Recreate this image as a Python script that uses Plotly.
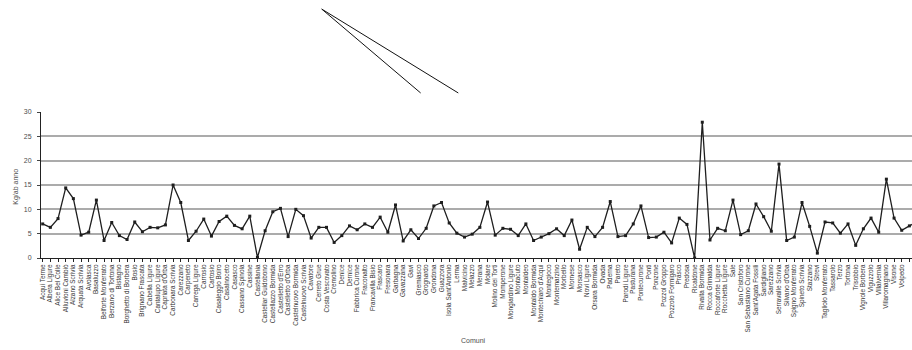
import plotly.graph_objects as go

comuni = [
    "Acqui Terme", "Albera Ligure", "Alice Bel Colle", "Alluvioni Cambiò", "Alzano Scrivia",
    "Arquata Scrivia", "Avolasca", "Basaluzzo", "Belforte Monferrato", "Berzano di Tortona",
    "Bistagno", "Borghetto di Borbera", "Bosio", "Brignano Frascata", "Cabella Ligure",
    "Cantalupo Ligure", "Capriata d'Orba", "Carbonara Scrivia", "Carezzano", "Carpeneto",
    "Carrega Ligure", "Carrosio", "Cartosio", "Casaleggio Boiro", "Casalnoceto",
    "Casasco", "Cassano Spinola", "Cassine", "Castellania", "Castellar Guidobono",
    "Castellazzo Bormida", "Castelletto d'Erro", "Castelletto d'Orba", "Castelnuovo Bormida", "Castelnuovo Scrivia",
    "Cavatore", "Cerreto Grue", "Costa Vescovato", "Cremolino", "Denice",
    "Dernice", "Fabbrica Curone", "Fraconalto", "Francavilla Bisio", "Frascaro",
    "Fresonara", "Garbagna", "Gavazzana", "Gavi", "Gremiasco",
    "Grognardo", "Grondona", "Guazzora", "Isola Sant'Antonio", "Lerma",
    "Malvicino", "Melazzo", "Merana", "Molare", "Molino dei Torti",
    "Momperone", "Mongiardino Ligure", "Montacuto", "Montaldeo", "Montaldo Bormida",
    "Montechiaro d'Acqui", "Montegioco", "Montemarzino", "Morbello", "Mornese",
    "Morsasco", "Novi Ligure", "Orsara Bormida", "Ovada", "Paderna",
    "Pareto", "Parodi Ligure", "Pasturana", "Pontecurone", "Ponti",
    "Ponzone", "Pozzol Groppo", "Pozzolo Formigaro", "Prasco", "Predosa",
    "Ricaldone", "Rivalta Bormida", "Rocca Grimalda", "Roccaforte Ligure", "Rocchetta Ligure",
    "Sale", "San Cristoforo", "San Sebastiano Curone", "Sant'Agata Fossili", "Sardigliano",
    "Sarezzano", "Serravalle Scrivia", "Silvano d'Orba", "Spigno Monferrato", "Spineto Scrivia",
    "Stazzano", "Strevi", "Tagliolo Monferrato", "Tassarolo", "Terzo",
    "Tortona", "Trisobbio", "Vignole Borbera", "Viguzzolo", "Villalvernia",
    "Villaromagnano", "Visone", "Volpedo", "Volpeglino", "Voltaggio",
]

kg_ab_anno = [
    7.0, 6.3, 8.1, 14.4, 12.2, 4.7, 5.3, 11.9, 3.6, 7.3,
    4.6, 3.8, 7.4, 5.4, 6.3, 6.2, 6.8, 15.0, 11.4, 3.6,
    5.5, 8.0, 4.5, 7.5, 8.6, 6.7, 6.0, 8.6, 0.1, 5.6,
    9.5, 10.2, 4.4, 10.0, 8.7, 4.1, 6.3, 6.3, 3.2, 4.6,
    6.6, 5.8, 7.0, 6.3, 8.4, 5.3, 10.9, 3.5, 5.8, 4.0,
    6.1, 10.7, 11.4, 7.2, 5.1, 4.3, 4.9, 6.3, 11.5, 4.7,
    6.1, 5.9, 4.6, 7.0, 3.6, 4.3, 5.0, 6.0, 4.6, 7.8,
    1.8, 6.3, 4.4, 6.3, 11.6, 4.4, 4.6, 7.0, 10.7, 4.2,
    4.3, 5.3, 3.1, 8.2, 6.9, 0.0, 27.9, 3.7, 6.1, 5.6,
    11.9, 4.8, 5.6, 11.1, 8.5, 5.5, 19.3, 3.6, 4.3, 11.4,
    6.5, 1.0, 7.4, 7.2, 5.1, 7.0, 2.6, 6.0, 8.2, 5.3,
    16.2, 8.2, 5.7, 6.6, 7.5,
]

y_ticks = [0, 5, 10, 15, 20, 25, 30]
y_title = "Kg/ab anno"
x_title = "Comuni"

# decorative stray lines at the top of the picture (paper coordinates)
stray_lines = [
    (0.3223, 1.705, 0.4359, 1.1303),
    (0.3223, 1.705, 0.4791, 1.1303),
]

idx = list(range(len(comuni)))

fig = go.Figure()
fig.add_trace(go.Scatter(
    x=idx, y=kg_ab_anno, mode="lines+markers",
    line=dict(color="#1e1e1e", width=1.3),
    marker=dict(symbol="square", size=3, color="#1e1e1e"),
    showlegend=False, hoverinfo="skip",
))

for x0, y0, x1, y1 in stray_lines:
    fig.add_shape(type="line", xref="paper", yref="paper",
                  x0=x0, y0=y0, x1=x1, y1=y1,
                  line=dict(color="#111111", width=1))

fig.add_annotation(text=y_title, xref="paper", yref="paper", x=-0.0356, y=0.488,
                   textangle=-90, showarrow=False,
                   font=dict(size=7, color="#4d4d4d", family="Liberation Sans"))
fig.add_annotation(text=x_title, xref="paper", yref="paper", x=0.497, y=-0.603,
                   showarrow=False,
                   font=dict(size=7, color="#4d4d4d", family="Liberation Sans"))

fig.update_layout(
    width=912, height=350,
    margin=dict(l=41, r=0, t=111.7, b=91.7, pad=0),
    paper_bgcolor="white", plot_bgcolor="white",
    font=dict(family="Liberation Sans", color="#333333"),
    xaxis=dict(
        range=[-0.22, 113.34],
        tickmode="array", tickvals=idx, ticktext=comuni,
        tickangle=-90, tickfont=dict(size=6.4, color="#333333"),
        showgrid=False, zeroline=False,
        showline=True, linecolor="#222222", linewidth=1,
        ticks="outside", ticklen=3, tickcolor="#222222",
    ),
    yaxis=dict(
        range=[0, 30], tickmode="array", tickvals=y_ticks,
        tickfont=dict(size=7, color="#4d4d4d"),
        showgrid=True, gridcolor="#ababab", gridwidth=1.8,
        zeroline=False,
        showline=True, linecolor="#222222", linewidth=1,
        ticks="outside", ticklen=3, tickcolor="#444444",
        ticklabelstandoff=4,
    ),
)

fig.write_html(
    "out.html",
    config={"displayModeBar": False},
    post_script="document.body.style.margin='0';document.body.style.overflow='hidden';",
)
